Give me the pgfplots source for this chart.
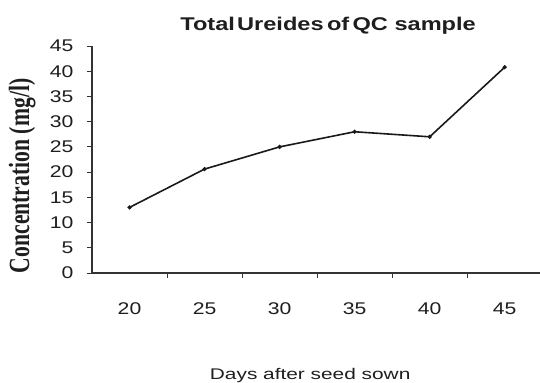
\documentclass[border=0pt]{standalone}
\usepackage{fontspec}
\setmainfont{Liberation Sans}[FakeStretch=1.35]
\newfontfamily\tickfont{Liberation Sans}[FakeStretch=1.25]
\newfontfamily\titlefont{Liberation Sans}[FakeStretch=1.28]
\newfontfamily\serifb{Liberation Serif}
\usepackage{graphicx}
\usepackage{pgfplots}
\pgfplotsset{compat=1.18}
\definecolor{txt}{HTML}{1E1E1E}
\definecolor{axc}{HTML}{333333}
\begin{document}
\begin{tikzpicture}
\useasboundingbox (-92bp,-110bp) rectangle (448bp,273bp);
\begin{axis}[
  at={(0,0)}, anchor=south west,
  scale only axis, width=448bp, height=227bp,
  xmin=-0.5, xmax=5.47, ymin=0, ymax=45,
  axis lines=left, axis line style={-, draw=axc, line width=1.1pt},
  ytick={0,5,...,45},
  xtick={0,1,2,3,4,5},
  xticklabels={20,25,30,35,40,45},
  tick align=outside, major tick length=5bp,
  tick style={draw=axc, line width=1pt},
  x tick style={draw=none},
  extra x ticks={0.5,1.5,2.5,3.5,4.5},
  extra x tick labels={},
  extra x tick style={x tick style={draw=axc}},
  /pgf/number format/assume math mode=true,
  ticklabel style={font=\tickfont\fontsize{17}{18}\selectfont, text=txt},
  xticklabel style={yshift=-21bp},
  yticklabel style={xshift=-10bp},
  title={\titlefont\bfseries Total\hspace{0.12em}Ureides\hspace{0.18em}of\hspace{0.18em}QC sample},
  title style={at={(axis description cs:0.527,1)}, anchor=base, yshift=10bp, font=\fontsize{18.5}{20}\selectfont, text=txt},
  xlabel={Days after seed sown},
  xlabel style={at={(axis description cs:0.487,0)}, anchor=base, yshift=-106bp, font=\fontsize{15.5}{17}\selectfont, text=txt},
  ylabel={\scalebox{1}[1.35]{\serifb\bfseries Concentration (mg/l)}},
  ylabel style={at={(axis description cs:-0.156,0.428)}, anchor=center, font=\fontsize{21.75}{24}\selectfont, text=txt},
  clip=false,
]
\addplot[color=black!90, line width=1.6pt, mark=*, mark size=1.2pt] coordinates {
  (0,13.0) (1,20.6) (2,25.0) (3,28.0) (4,27.0) (5,40.8)
};
\end{axis}
\end{tikzpicture}
\end{document}
